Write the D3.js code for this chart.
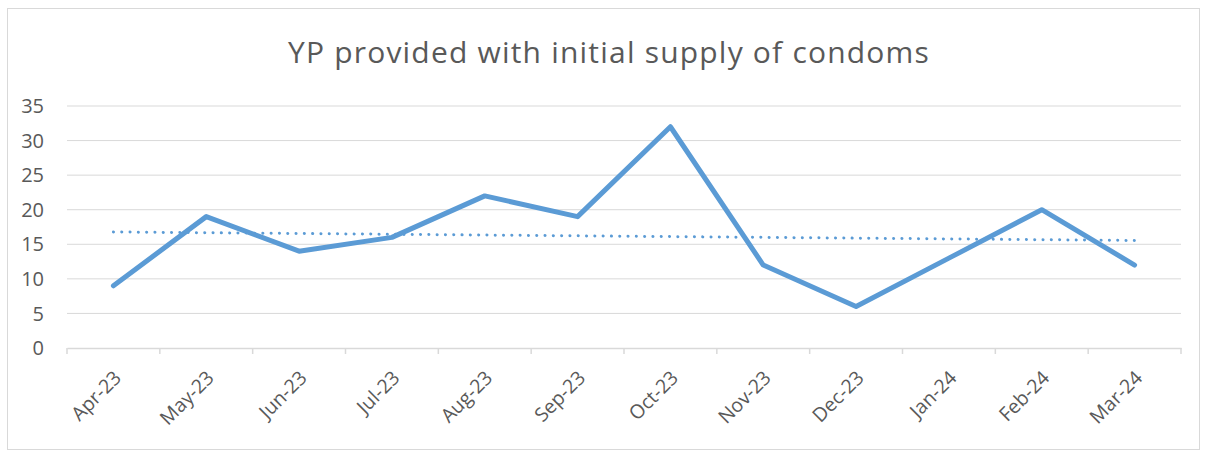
<!DOCTYPE html>
<html>
<head>
<meta charset="utf-8">
<script src="https://cdn.jsdelivr.net/npm/d3@7"></script>
<style>
  body { margin: 0; background: #fff; }
  svg { display: block; }
</style>
</head>
<body>
<div id="chart"></div>
<script>
// Chart data
const months = ["Apr-23", "May-23", "Jun-23", "Jul-23", "Aug-23", "Sep-23",
  "Oct-23", "Nov-23", "Dec-23", "Jan-24", "Feb-24", "Mar-24"];
const counts = [9, 19, 14, 16, 22, 19, 32, 12, 6, 13, 20, 12];
const yTicks = [0, 5, 10, 15, 20, 25, 30, 35];

const width = 1208, height = 454;
const plot = { left: 67, right: 1181, top: 106, bottom: 348 };
const font = "'Open Sans', sans-serif";

const svg = d3.select("#chart").append("svg")
  .attr("width", width)
  .attr("height", height);

// Chart border
svg.append("rect")
  .attr("x", 7.5).attr("y", 8.5)
  .attr("width", 1192).attr("height", 441)
  .attr("fill", "#fff")
  .attr("stroke", "#d9d9d9");

// Scales
const x = d3.scaleBand().domain(months).range([plot.left, plot.right]);
const y = d3.scaleLinear().domain([0, 35]).range([plot.bottom, plot.top]);
const cx = (d) => x(d) + x.bandwidth() / 2;

// Title
svg.append("text")
  .attr("x", 609).attr("y", 63)
  .attr("text-anchor", "middle")
  .style("font-family", font)
  .style("font-size", "30px")
  .style("letter-spacing", "1.2px")
  .style("fill", "#595959")
  .text("YP provided with initial supply of condoms");

// Gridlines
svg.append("g")
  .selectAll("line")
  .data(yTicks.filter((t) => t > 0))
  .enter()
  .append("line")
  .attr("x1", plot.left).attr("x2", plot.right)
  .attr("y1", (d) => y(d)).attr("y2", (d) => y(d))
  .attr("stroke", "#d9d9d9")
  .attr("stroke-width", 1);

// Y labels
svg.append("g")
  .selectAll("text")
  .data(yTicks)
  .enter()
  .append("text")
  .attr("x", 44)
  .attr("y", (d) => y(d))
  .attr("dy", "0.36em")
  .attr("text-anchor", "end")
  .style("font-family", font)
  .style("font-size", "20px")
  .style("fill", "#595959")
  .text((d) => d);

// X axis
const xAxis = svg.append("g")
  .attr("transform", `translate(0,${plot.bottom})`)
  .call(d3.axisBottom(x).tickSize(0).tickFormat(""));
xAxis.select(".domain").attr("stroke", "#d9d9d9").attr("stroke-width", 1.5);

// Tick marks on band edges
const edges = months.map((m) => x(m)).concat([plot.right]);
svg.append("g")
  .selectAll("line")
  .data(edges)
  .enter()
  .append("line")
  .attr("x1", (d) => d).attr("x2", (d) => d)
  .attr("y1", plot.bottom).attr("y2", plot.bottom + 6)
  .attr("stroke", "#d9d9d9")
  .attr("stroke-width", 1.5);

// X labels, rotated
svg.append("g")
  .selectAll("text")
  .data(months)
  .enter()
  .append("text")
  .attr("text-anchor", "end")
  .attr("transform", (d) => `translate(${cx(d) + 9},${plot.bottom + 31}) rotate(-45)`)
  .style("font-family", font)
  .style("font-size", "19.5px")
  .style("fill", "#595959")
  .text((d) => d);

// Linear trendline (least squares over the data)
const idx = counts.map((_, i) => i);
const mx = d3.mean(idx), my = d3.mean(counts);
const slope = d3.sum(idx, (i) => (i - mx) * (counts[i] - my)) /
  d3.sum(idx, (i) => (i - mx) * (i - mx));
const intercept = my - slope * mx;
const trend = months.map((m, i) => [cx(m), y(intercept + slope * i)]);

svg.append("path")
  .attr("d", d3.line()(trend))
  .attr("fill", "none")
  .attr("stroke", "#5b9bd5")
  .attr("stroke-width", 3)
  .attr("stroke-linecap", "round")
  .attr("stroke-dasharray", "0.1 8.2");

// Main line
const line = d3.line()
  .x((d, i) => cx(months[i]))
  .y((d) => y(d));

svg.append("path")
  .datum(counts)
  .attr("d", line)
  .attr("fill", "none")
  .attr("stroke", "#5b9bd5")
  .attr("stroke-width", 5)
  .attr("stroke-linejoin", "round")
  .attr("stroke-linecap", "round");
</script>
</body>
</html>
